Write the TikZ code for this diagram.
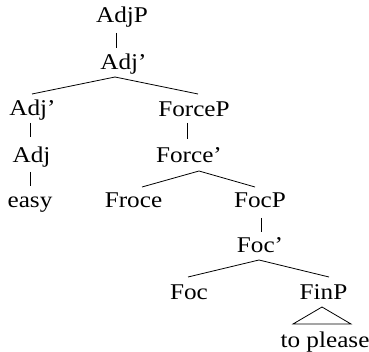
\documentclass[tikz,border=0pt]{standalone}
\usepackage{fontspec}
\usepackage{graphicx}
\setmainfont{Liberation Serif}
\newcommand\wideTxt[1]{\scalebox{1.12}[1]{#1}}
\begin{document}
\begin{tikzpicture}[x=1pt,y=-1pt,
  lab/.style={anchor=base,inner sep=0pt,font=\fontsize{22.5}{26}\selectfont},
  edge/.style={line width=0.8pt}]
\useasboundingbox (0,0) rectangle (369,352);
% nodes
\node[lab] (adjp)   at (122,23)  {\wideTxt{AdjP}};
\node[lab] (adjbar) at (123.5,70) {\wideTxt{Adj'}};
\node[lab] (adjbarb) at (32.5,116) {\wideTxt{Adj'}};
\node[lab] (forcep) at (194,117) {\wideTxt{ForceP}};
\node[lab] (adj)    at (31.5,163) {\wideTxt{Adj}};
\node[lab] (forcebar) at (189,163) {\wideTxt{Force'}};
\node[lab] (easy)   at (30,208) {\wideTxt{easy}};
\node[lab] (froce)  at (133.5,208) {\wideTxt{Froce}};
\node[lab] (focp)   at (260,208) {\wideTxt{FocP}};
\node[lab] (focbar) at (260,253) {\wideTxt{Foc'}};
\node[lab] (foc)    at (189,300) {\wideTxt{Foc}};
\node[lab] (finp)   at (323.5,300) {\wideTxt{FinP}};
\node[lab] (please) at (325,347) {\wideTxt{to please}};
% connector ends
\coordinate (adjp-s) at (116,33);   \coordinate (adjbar-n) at (116,48);
\coordinate (adjbar-s) at (115,77); \coordinate (adjbarb-n) at (32,94); \coordinate (forcep-n) at (198,94);
\coordinate (adjbarb-s) at (30,123); \coordinate (adj-n) at (30,137);
\coordinate (adj-s) at (30,172); \coordinate (easy-n) at (30,186);
\coordinate (forcep-s) at (187,123); \coordinate (forcebar-n) at (187,139);
\coordinate (forcebar-s) at (199,171); \coordinate (froce-n) at (142,187); \coordinate (focp-n) at (255,187);
\coordinate (focp-s) at (261,218); \coordinate (focbar-n) at (261,232);
\coordinate (focbar-s) at (259,260); \coordinate (foc-n) at (188,277); \coordinate (finp-n) at (329,277);
\coordinate (finp-s) at (322,307); \coordinate (please-nw) at (293,324); \coordinate (please-ne) at (351,324);
% connectors
\draw[edge] (adjp-s) -- (adjbar-n);
\draw[edge] (adjbarb-n) -- (adjbar-s) -- (forcep-n);
\draw[edge] (adjbarb-s) -- (adj-n);
\draw[edge] (adj-s) -- (easy-n);
\draw[edge] (forcep-s) -- (forcebar-n);
\draw[edge] (froce-n) -- (forcebar-s) -- (focp-n);
\draw[edge] (focp-s) -- (focbar-n);
\draw[edge] (foc-n) -- (focbar-s) -- (finp-n);
\draw[edge,line join=miter] (finp-s) -- (please-nw) -- (please-ne) -- cycle;
\end{tikzpicture}
\end{document}
